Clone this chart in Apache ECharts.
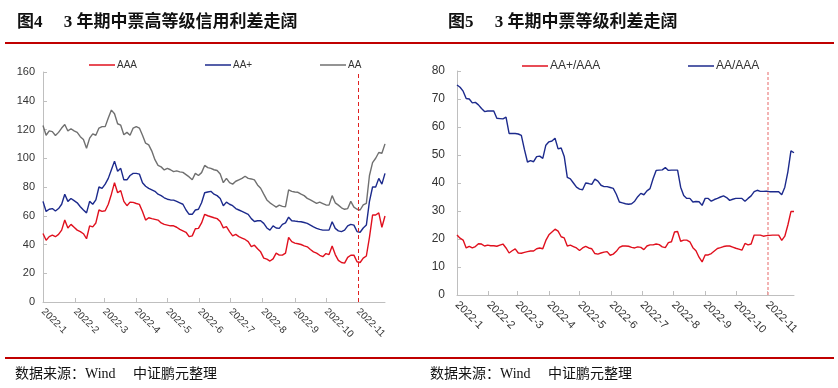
<!DOCTYPE html>
<html><head><meta charset="utf-8">
<script src="https://cdn.jsdelivr.net/npm/echarts@6/dist/echarts.min.js"></script>
<style>html,body{margin:0;padding:0;background:#fff}#c{width:838px;height:388px}</style>
</head><body><div id="c"></div>
<script>
const YEAR = '2022';
const dates = ['01-01','01-04','01-07','01-10','01-13','01-16','01-19','01-22','01-25','01-28','01-31',
'02-03','02-06','02-09','02-12','02-15','02-18','02-21','02-24','02-27',
'03-02','03-05','03-08','03-11','03-14','03-17','03-20','03-23','03-26','03-29',
'04-01','04-04','04-07','04-10','04-13','04-16','04-19','04-22','04-25','04-28',
'05-01','05-04','05-07','05-10','05-13','05-16','05-19','05-22','05-25','05-28','05-31',
'06-03','06-06','06-09','06-12','06-15','06-18','06-21','06-24','06-27','06-30',
'07-03','07-06','07-09','07-12','07-15','07-18','07-21','07-24','07-27','07-30',
'08-02','08-05','08-08','08-11','08-14','08-17','08-20','08-23','08-26','08-29',
'09-01','09-04','09-07','09-10','09-13','09-16','09-19','09-22','09-25','09-28',
'10-01','10-04','10-07','10-10','10-13','10-16','10-19','10-22','10-25','10-28','10-31',
'11-03','11-06','11-09','11-12','11-15','11-18','11-21','11-24','11-27'];

// Figure 4 (left): 3Y MTN credit spreads
const aaa = [47.7,43,45.5,46.5,45.4,47,50,57,51.5,54,52,
50,49,47.5,44,53,52.3,55,64,63,
63.5,68,75,83,76,77.5,70,67,69.5,69.3,
68.5,67.9,63,57,58.6,58,57.5,57,55,54,
53.5,53,53,52,50.5,49.5,48.5,45.5,46,51,51.2,
55,61,60,59.3,58.6,58,56,51.6,52.5,49,
46,47,45.5,44.5,43.5,42,38.5,39.5,37,34.9,
30.5,29.8,28.5,30,34,32.6,32.6,34,45,42,
41,40.5,40,39,38.4,36.5,34.9,34,32.5,31.5,
33.7,33,39,33,29,27.5,27,31,32.5,32.6,28,
27.5,30.5,32,45,60.5,60.5,62,52,59.8];
const aaPlus = [70,63,64.5,65,63.3,65,68,75,70,72,70.5,
69,66.3,64,62,70,68,71,80,79,
82,86,92,98,91,93,85,85,88,89.5,
89.5,89,83,80.5,79,78,77,75,74,72.5,
71.5,71,70.9,70,69,68,64,61,61,64,64.5,
69,76,76.5,77,75,74,72,67,69.5,68,
67,65,64,63,62,61,58,56,56.5,56.5,
54.7,51.5,50,53,51.5,51.2,54,55,59,56.5,
56.3,56,55.8,55.3,54.7,53.5,52.3,51.2,50.5,50,
50,50,55.8,51.2,49.5,49,50,53,54,53.5,49,
48.5,51.5,53.5,70,80,80,86,82,89.5];
const aa = [122.8,116,119,118.5,115.8,118,121,123.5,119,120.5,119,
118,115,113,107,114,117,116,121,122,
122,128,133.5,131,124,123,116.3,118,116,121,
122,121,116,110.5,109.3,105,99,95,94,91.9,
93,92,90.7,91.2,90.5,90.2,88.6,87,85,89.5,88,
90,95,93.5,93,92,91.5,89,83,86,83,
82,84,85,86,87.5,86,85.6,84.9,81.4,79.1,
75,71,69,67.5,66,67.4,66.5,66.3,78,77,
76.5,76.3,75,74,72.1,71,69.8,68.6,69.5,68.5,
67.5,67.4,74,69,67.4,65.5,64.5,65,70,66,64.5,
64,67.5,68.6,88,97,100,104,103.5,110];

// Figure 5 (right): rating spreads
const aaPlusVsAaa = [21.4,20.3,19.6,16.8,17.4,16.8,17.3,18.3,18.2,17.5,17.8,
17.6,17.6,17.4,17.8,18.2,16.8,15,15.8,16.5,
15,14.9,15.2,15.5,15.7,15.7,16.5,16.8,16.5,19.5,
21.5,22.5,23.5,22.8,20.8,20.4,17.5,17.8,17.3,16.8,
15.9,16.8,17.4,16.8,16.5,14.8,14.6,15,15.3,15.5,14.2,
14.6,15.6,17,17.5,17.5,17.4,17,16.8,17.2,17,
16.2,17.5,17.9,17.9,18.2,18,17.2,16.9,18.7,19,
22.5,22.7,19.2,19.6,19.6,19,16.9,15.8,13.5,11.8,
14.3,14.3,14.8,15.7,16.6,16.9,17.3,17.5,17.5,17.1,
16.7,16.4,16,18.4,17.9,18.2,21.4,21.4,21.4,21,21.2,
21.3,21.4,21.4,21.4,19.5,21,25,29.8,29.8];
const aaVsAaa = [75,74.2,72.8,70.2,70,68.6,68.8,67.9,66.6,65.5,65.7,
65.7,65.7,63.1,63,62.9,63.5,57.7,57.7,57.7,
57.5,57,52,47.5,48,47.6,49.4,49.6,48.8,53.5,
54.7,55,56,52.2,52.5,49.5,42,41.5,40,38.5,
37.8,37.6,40,39.8,39.5,41.4,40.7,39.2,38.7,38.7,38.4,
38.1,36,33.2,32.9,32.6,32.4,32.6,33.5,35.1,36.3,
35.8,37.2,38,41.5,44.5,44.6,44.7,45.5,44.5,44.6,
44.6,44.6,38.5,35.5,34.5,34.5,33.2,33.4,33.3,32,
34.5,34.5,33.5,34.1,34.5,35,35.4,34.8,33.8,34.2,
34.5,34.5,34.5,33.5,34.5,35.4,36.9,37.4,37,37,37.1,
36.9,36.9,36.9,36.9,35.8,38.5,44,51.5,50.8];

const monthTicks = ['01','02','03','04','05','06','07','08','09','10','11'];
const markDate = '11-01';
const title4 = '图4\u3000 3 年期中票高等级信用利差走阔';
const title5 = '图5\u3000 3 年期中票等级利差走阔';
const source = '数据来源：Wind\u3000 中证鹏元整理';

const ts = s => { const p = s.split('-').map(Number); return new Date(p[0], p[1] - 1, p[2]).getTime(); };
const full = d => ts(YEAR + '-' + d);
const pairs = vals => vals.map((v, i) => [full(dates[i]), v]);
const tickVals = monthTicks.map(m => ts(YEAR + '-' + m + '-01'));
const fmt = v => { const d = new Date(v); return d.getFullYear() + '-' + (d.getMonth() + 1); };

function xAx(gi, fs) {
  return {
    type: 'value', gridIndex: gi, min: full(dates[0]), max: full(dates[dates.length - 1]),
    axisLine: { lineStyle: { color: '#bfbfbf', width: 1 } },
    axisTick: { show: true, inside: true, length: 4, customValues: tickVals, lineStyle: { color: '#bfbfbf' } },
    axisLabel: { customValues: tickVals, formatter: fmt, rotate: -45, margin: 8, fontSize: fs, color: '#333', fontFamily: 'Liberation Sans, Arial' },
    splitLine: { show: false }
  };
}
function yAx(gi, max, interval, fs, margin) {
  return {
    type: 'value', gridIndex: gi, min: 0, max: max, interval: interval,
    axisLine: { show: true, lineStyle: { color: '#bfbfbf', width: 1 } },
    axisTick: { show: true, inside: true, length: 4, lineStyle: { color: '#bfbfbf' } },
    axisLabel: { fontSize: fs, color: '#333', margin: margin, fontFamily: 'Liberation Sans, Arial' },
    splitLine: { show: false }
  };
}
function line(name, vals, color, xi, mark) {
  const s = {
    name: name, type: 'line', xAxisIndex: xi, yAxisIndex: xi, data: pairs(vals),
    symbol: 'none', showSymbol: false, animation: false,
    lineStyle: { color: color, width: 1.4 }, itemStyle: { color: color }
  };
  if (mark) s.markLine = mark;
  return s;
}
const mk = (color, width, type) => ({
  silent: true, symbol: 'none', label: { show: false },
  lineStyle: { color: color, width: width, type: type },
  data: [{ xAxis: full(markDate) }]
});
const leg = (name, left, fs) => ({
  left: left, top: 55, icon: 'rect', itemWidth: 26, itemHeight: 1.5, itemGap: 0, data: [name],
  textStyle: { fontSize: fs, color: '#333', padding: [0, 0, 0, -3], fontFamily: 'Liberation Sans, Arial' }
});

const chart = echarts.init(document.getElementById('c'), null, { renderer: 'canvas' });
chart.setOption({
  animation: false,
  backgroundColor: '#fff',
  grid: [
    { left: 43, top: 72, width: 342, height: 230 },
    { left: 457, top: 71, width: 337, height: 224 }
  ],
  xAxis: [xAx(0, 10), xAx(1, 11)],
  yAxis: [yAx(0, 160, 20, 11, 8), yAx(1, 80, 10, 12, 12)],
  legend: [
    leg('AAA', 84, 10), leg('AA+', 200, 10), leg('AA', 315, 10),
    leg('AA+/AAA', 517, 12), leg('AA/AAA', 683, 12)
  ],
  series: [
    line('AAA', aaa, '#e0101e', 0, mk('#e02020', 1, [4, 3])),
    line('AA+', aaPlus, '#1c2a8c', 0),
    line('AA', aa, '#707070', 0),
    line('AA+/AAA', aaPlusVsAaa, '#e0101e', 1, mk('#f09a9a', 1.5, [3, 2])),
    line('AA/AAA', aaVsAaa, '#1c2a8c', 1)
  ],
  graphic: [
    { type: 'text', left: 17, top: 14, style: { text: title4, font: 'bold 17px "Liberation Serif", "Noto Sans CJK SC"', fill: '#111' } },
    { type: 'text', left: 448, top: 14, style: { text: title5, font: 'bold 17px "Liberation Serif", "Noto Sans CJK SC"', fill: '#111' } },
    { type: 'line', shape: { x1: 5, y1: 43, x2: 834, y2: 43 }, style: { stroke: '#c00000', lineWidth: 2 } },
    { type: 'line', shape: { x1: 5, y1: 358, x2: 834, y2: 358 }, style: { stroke: '#c00000', lineWidth: 2 } },
    { type: 'text', left: 15, top: 367, style: { text: source, font: '14px "Liberation Serif", "Noto Sans CJK SC"', fill: '#111' } },
    { type: 'text', left: 430, top: 367, style: { text: source, font: '14px "Liberation Serif", "Noto Sans CJK SC"', fill: '#111' } }
  ]
});
</script></body></html>
